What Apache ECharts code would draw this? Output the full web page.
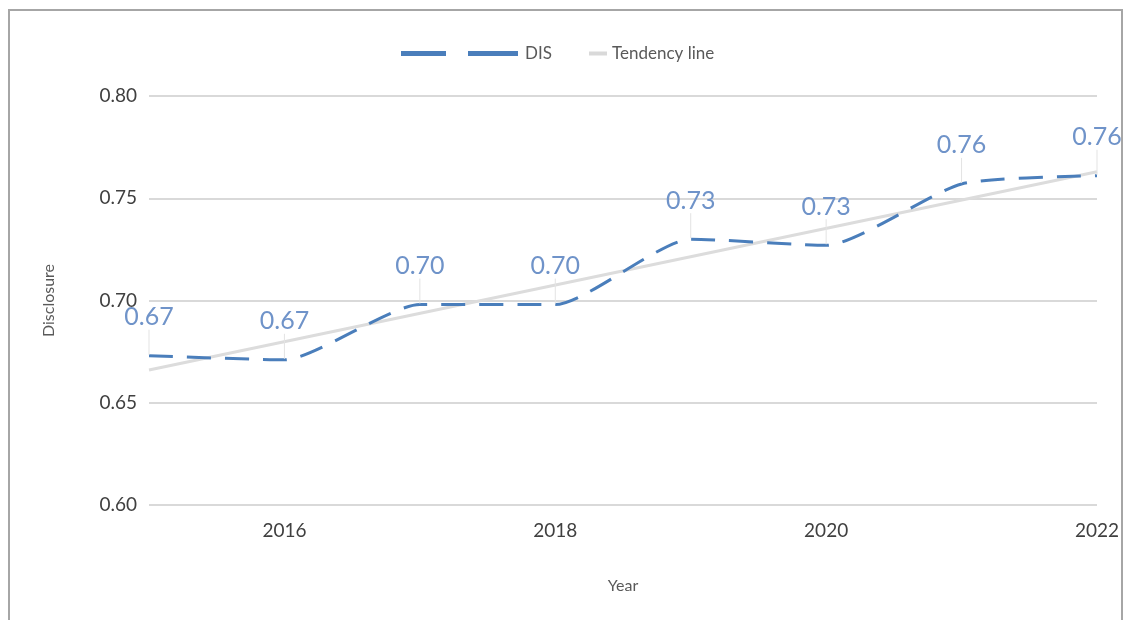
<!DOCTYPE html>
<html>
<head>
<meta charset="utf-8">
<script src="https://cdn.jsdelivr.net/npm/echarts@6/dist/echarts.min.js"></script>
<style>
  html, body { margin: 0; padding: 0; background: #fff; }
  #frame { position: absolute; left: 8px; top: 9px; width: 1115px; height: 640px; border: 2px solid #a6a6a6; box-sizing: border-box; }
  #chart { position: absolute; left: 0; top: 0; width: 1129px; height: 620px; }
</style>
</head>
<body>
<div id="frame"></div>
<div id="chart"></div>
<script>
// Disclosure score by year
const years = [2015, 2016, 2017, 2018, 2019, 2020, 2021, 2022];
const disValues = [0.673, 0.671, 0.698, 0.698, 0.730, 0.727, 0.757, 0.761];
// Tendency line end points
const trendYears = [2015, 2022];
const trendValues = [0.666, 0.763];
const yTicks = [0.60, 0.65, 0.70, 0.75, 0.80];

const FONT = 'Lato';
const chart = echarts.init(document.getElementById('chart'));

chart.setOption({
  animation: false,
  textStyle: { fontFamily: FONT },
  legend: [
    {
      left: 396, top: 40,
      itemWidth: 121, itemHeight: 5, itemGap: 12,
      data: [{
        name: 'DIS',
        icon: 'path://M0,0H45V5H0Z M67,0H117V5H67Z',
        itemStyle: { color: '#4a7ebb', opacity: 1 }
      }],
      textStyle: { color: '#595959', fontSize: 17, fontFamily: FONT }
    },
    {
      left: 584, top: 40,
      itemWidth: 18, itemHeight: 4,
      data: [{ name: 'Tendency line', icon: 'rect' }],
      textStyle: { color: '#595959', fontSize: 17, fontFamily: FONT }
    }
  ],
  grid: { left: 149, right: 32, top: 96, bottom: 115 },
  xAxis: {
    type: 'value',
    min: years[0], max: years[years.length - 1], interval: 1,
    name: 'Year', nameLocation: 'middle', nameGap: 73,
    nameTextStyle: { color: '#595959', fontSize: 16, fontFamily: FONT },
    axisLine: { show: false },
    axisTick: { show: false },
    splitLine: { show: false },
    axisLabel: {
      color: '#404040', fontSize: 19, fontFamily: FONT, margin: 16,
      formatter: v => (v % 2 === 0 ? String(v) : '')
    }
  },
  yAxis: {
    type: 'value',
    min: yTicks[0], max: yTicks[yTicks.length - 1], interval: 0.05,
    name: 'Disclosure', nameLocation: 'middle', nameGap: 92,
    nameTextStyle: { color: '#595959', fontSize: 16, fontFamily: FONT },
    axisLine: { show: false },
    axisTick: { show: false },
    splitLine: { lineStyle: { color: '#d9d9d9', width: 2 } },
    axisLabel: {
      color: '#404040', fontSize: 19, fontFamily: FONT, margin: 12,
      formatter: v => v.toFixed(2)
    }
  },
  series: [
    {
      name: 'Tendency line',
      type: 'line',
      data: trendYears.map((y, i) => [y, trendValues[i]]),
      symbol: 'none',
      itemStyle: { color: '#d9d9d9' },
      lineStyle: { color: '#dcdcdc', width: 3 },
      z: 1
    },
    {
      name: 'DIS',
      type: 'line',
      data: years.map((y, i) => [y, disValues[i]]),
      symbol: 'circle',
      symbolSize: 2,
      smooth: 0.2,
      itemStyle: { color: '#4a7ebb', opacity: 0 },
      lineStyle: { color: '#4a7ebb', width: 3, type: [24, 14] },
      label: {
        show: true,
        position: 'top',
        distance: 6,
        color: '#6f93c9',
        fontSize: 25,
        fontFamily: FONT,
        opacity: 1,
        formatter: p => p.value[1].toFixed(2)
      },
      labelLayout: { dy: -19 },
      labelLine: { show: true, lineStyle: { color: '#e3e3e3', width: 1, opacity: 1 } },
      emphasis: { disabled: true },
      z: 2
    }
  ]
});
</script>
</body>
</html>
